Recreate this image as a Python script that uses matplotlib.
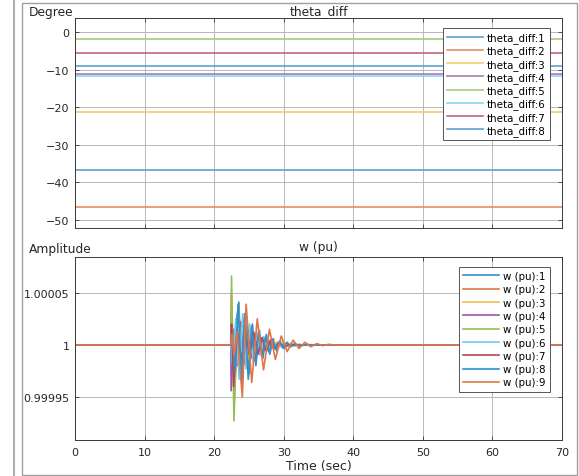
import numpy as np
import matplotlib
matplotlib.use('Agg')
import matplotlib.pyplot as plt
from matplotlib.colors import to_rgb
from matplotlib.patches import Rectangle
from matplotlib.lines import Line2D

# MATLAB default line colours
colors = ['#0072BD', '#D95319', '#EDB120', '#7E2F8E', '#77AC30',
          '#4DBEEE', '#A2142F', '#0072BD', '#D95319']

# theta_diff (degree), constant over the run
theta_t = [0, 70]
theta_diff = [-36.6, -46.5, -21.2, -11.1, -2.0, -11.6, -5.6, -9.0]
theta_labels = ['theta_diff:%d' % (i + 1) for i in range(8)]

# w (pu): points, deviation from 1 in units of 1e-5
w_t1 = [0, 22.40, 22.70, 23.15, 23.55, 24.00, 24.50, 25.00, 25.50, 26.00, 26.50, 27.00, 27.50,
        28.00, 28.50, 29.00, 29.50, 30.00, 30.50, 31.00, 31.60, 32.20, 33.00, 70]
w_d1 = [0, 0, -1.5, 2.0, 4.1, -4.3, 2.6, -2.8, 2.0, -2.0, 1.4, -1.3, 1.0,
        -0.9, 0.6, -0.6, 0.4, -0.35, 0.25, -0.2, 0.15, -0.1, 0, 0]

w_t2 = [0, 22.40, 22.47, 22.90, 23.20, 23.50, 24.00, 24.60, 25.20, 25.80, 26.40, 27.00, 27.60,
        28.20, 28.80, 29.50, 30.30, 31.50, 70]
w_d2 = [0, 0, 5.0, -5.4, -1.0, 1.0, -1.8, 1.5, -1.2, 1.0, -0.8, 0.6, -0.5,
        0.35, -0.3, 0.2, -0.1, 0, 0]

w_t3 = [0, 22.40, 22.70, 23.20, 23.80, 24.40, 25.00, 25.60, 26.20, 26.80, 27.40, 28.00, 28.60,
        29.20, 29.80, 30.40, 31.00, 31.60, 32.20, 32.80, 33.40, 34.50, 70]
w_d3 = [0, 0, 1.2, -1.8, 2.4, -1.9, 1.5, -1.2, 1.0, -0.8, 0.6, -0.5, 0.4,
        -0.3, 0.25, -0.2, 0.15, -0.12, 0.1, -0.08, 0.05, 0, 0]

w_t4 = [0, 22.40, 22.45, 22.75, 23.30, 23.80, 24.30, 24.80, 25.30, 25.80, 26.30, 26.80, 27.30,
        27.80, 28.30, 29.00, 30.00, 70]
w_d4 = [0, 0, -4.4, 1.5, -2.0, 2.2, -1.8, 1.5, -1.3, 1.0, -0.8, 0.6, -0.5,
        0.35, -0.3, 0.1, 0, 0]

w_t5 = [0, 22.40, 22.50, 22.85, 23.20, 23.50, 23.95, 24.45, 24.95, 25.45, 25.95, 26.45, 26.95,
        27.45, 28.00, 29.00, 70]
w_d5 = [0, 0, 6.6, -7.3, 0.5, 3.6, -2.5, 1.8, -1.4, 1.0, -0.8, 0.6, -0.45,
        0.3, -0.2, 0, 0]

w_t6 = [0, 22.40, 22.65, 23.10, 23.60, 24.10, 24.60, 25.10, 25.60, 26.10, 26.60, 27.10, 27.60,
        28.10, 28.60, 29.10, 29.60, 30.20, 31.00, 70]
w_d6 = [0, 0, -2.0, 2.5, -3.3, 3.0, -2.3, 2.0, -1.6, 1.3, -1.0, 0.8, -0.6,
        0.5, -0.4, 0.3, -0.2, 0.1, 0, 0]

w_t7 = [0, 22.40, 22.50, 22.80, 23.30, 23.90, 24.50, 25.10, 25.70, 26.30, 26.90, 27.50, 28.10,
        28.70, 29.30, 30.00, 31.00, 70]
w_d7 = [0, 0, 2.0, -4.0, 1.5, -1.6, 1.2, -1.0, 1.2, -0.9, 0.7, -0.6, 0.45,
        -0.35, 0.25, -0.15, 0, 0]

w_t8 = [0, 22.40, 22.60, 23.00, 23.45, 23.90, 24.40, 24.90, 25.40, 25.90, 26.40, 26.90, 27.40,
        27.90, 28.40, 28.90, 29.40, 29.90, 30.40, 31.00, 32.00, 70]
w_d8 = [0, 0, 1.0, -2.5, 3.9, -3.0, 3.0, -3.3, 1.8, -1.6, 1.2, -1.1, 0.8,
        -0.7, 0.5, -0.45, 0.3, -0.3, 0.2, -0.1, 0, 0]

w_t9 = [0, 22.40, 22.55, 22.85, 23.30, 24.05, 24.60, 25.40, 26.20, 27.10, 27.95, 28.80, 29.65,
        30.50, 31.35, 32.20, 33.05, 33.90, 34.75, 35.60, 36.45, 37.50, 38.50, 70]
w_d9 = [0, 0, 1.0, -1.0, 1.2, -5.0, 3.9, -3.6, 2.5, -2.4, 1.5, -1.4, 0.85,
        -0.65, 0.45, -0.35, 0.25, -0.18, 0.12, -0.08, 0.05, -0.03, 0, 0]

w_t = [w_t1, w_t2, w_t3, w_t4, w_t5, w_t6, w_t7, w_t8, w_t9]
w_d = [w_d1, w_d2, w_d3, w_d4, w_d5, w_d6, w_d7, w_d8, w_d9]
w_labels = ['w (pu):%d' % (i + 1) for i in range(9)]

W, H = 579, 477


def lighten(c, amount):
    # mix a colour with white, the scope screenshot looks washed out
    r, g, b = to_rgb(c)
    return (r + (1 - r) * amount, g + (1 - g) * amount, b + (1 - b) * amount)


def style_axes(ax):
    ax.set_xlim(0, 70)
    ax.set_xticks(np.arange(0, 71, 10))
    ax.grid(True, color='#b8b8b8', lw=0.7)
    ax.set_axisbelow(True)
    ax.tick_params(direction='in', top=True, right=True, length=3, width=0.6,
                   color='#3a3a3a', labelcolor='#262626', labelsize=8)
    ax.tick_params(axis='x', pad=5)
    ax.tick_params(axis='y', pad=4)
    for s in ax.spines.values():
        s.set_color('#3a3a3a')
        s.set_linewidth(0.7)


def add_legend(ax, y_top, spacing):
    leg = ax.legend(loc='upper right', bbox_to_anchor=(0.975, y_top), borderaxespad=0,
                    fontsize=7.4, handlelength=3.5, handletextpad=0.4, labelspacing=spacing,
                    borderpad=0.4, fancybox=False, framealpha=1)
    leg.get_frame().set_edgecolor('#3a3a3a')
    leg.get_frame().set_linewidth(0.6)


fig = plt.figure(figsize=(W / 100, H / 100), dpi=100)

# window chrome around the scope
fig.add_artist(Rectangle((22 / W, 1 / H), 555 / W, 472 / H, transform=fig.transFigure,
                         fill=False, ec='#a0a0a0', lw=1))
fig.add_artist(Line2D([14 / W, 14 / W], [0, 1], transform=fig.transFigure, color='#b0b0b0', lw=1.5))

# theta_diff
ax1 = fig.add_axes([75 / W, 1 - 229 / H, 487 / W, 210 / H])
for i, val in enumerate(theta_diff):
    ax1.plot(theta_t, [val, val], color=lighten(colors[i], 0.35), lw=1.2, label=theta_labels[i])
style_axes(ax1)
ax1.set_ylim(-52.1, 3.7)
ax1.set_yticks(np.arange(-50, 1, 10))
ax1.set_xticklabels([])
ax1.set_title('theta_diff', fontsize=8.8, pad=3, color='#262626')
fig.text(29 / W, 1 - 16 / H, 'Degree', fontsize=8.8, va='baseline', color='#262626')
add_legend(ax1, 0.952, 0.23)

# w (pu)
ax2 = fig.add_axes([75 / W, 1 - 440.7 / H, 487 / W, 182.4 / H])
for i in range(9):
    w = 1 + np.array(w_d[i]) * 1e-5
    ax2.plot(w_t[i], w, color=lighten(colors[i], 0.2), lw=1.2, label=w_labels[i])
style_axes(ax2)
ax2.set_ylim(0.999909, 1.000084)
ax2.set_yticks([0.99995, 1.0, 1.00005])
ax2.set_yticklabels(['0.99995', '1', '1.00005'])
ax2.set_title('w (pu)', fontsize=8.8, pad=5, color='#262626')
ax2.set_xlabel('Time (sec)', fontsize=9, labelpad=2, color='#262626')
fig.text(29 / W, 1 - 253 / H, 'Amplitude', fontsize=8.8, va='baseline', color='#262626')
add_legend(ax2, 0.947, 0.32)

fig.savefig('out.png', dpi=100)
